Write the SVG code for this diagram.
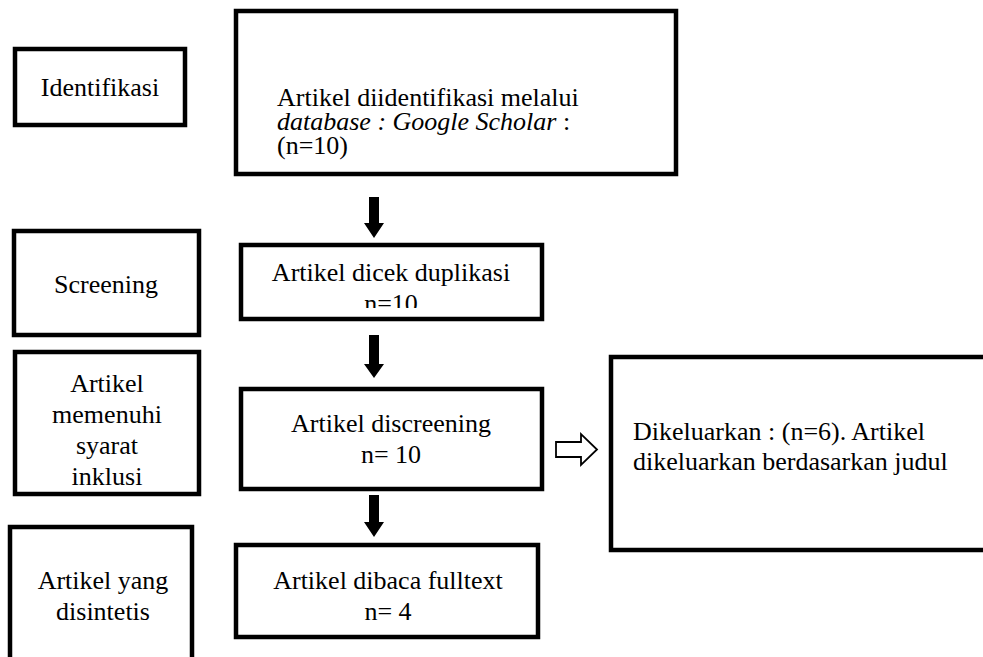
<svg xmlns="http://www.w3.org/2000/svg" width="983" height="657" viewBox="0 0 983 657">
<style>
.box{fill:#fff;stroke:#000;stroke-width:4.5}
.t{font-family:"Liberation Serif","Times New Roman",serif;font-size:26px;fill:#000}
.c{text-anchor:middle}
.it{font-style:italic}
.arr{fill:#000;stroke:none}
.harr{fill:#fff;stroke:#000;stroke-width:1.8}
</style>
<defs>
<clipPath id="clipDicek"><rect x="241" y="247" width="301" height="61"/></clipPath>
</defs>
<rect width="983" height="657" fill="#fff"/>

<g id="identifikasi">
<rect class="box" x="15" y="49" width="170" height="76"/>
<text class="t c" x="100" y="96">Identifikasi</text>
</g>

<g id="box-identifikasi">
<rect class="box" x="236" y="11" width="440" height="163"/>
<text class="t" x="277" y="106">Artikel diidentifikasi melalui</text>
<text class="t" x="277" y="130"><tspan class="it">database : Google Scholar</tspan> :</text>
<text class="t" x="277" y="154">(n=10)</text>
</g>

<g id="screening">
<rect class="box" x="14" y="231" width="185" height="104"/>
<text class="t c" x="106" y="293">Screening</text>
</g>

<g id="box-dicek">
<rect class="box" x="241" y="245" width="301" height="74"/>
<g clip-path="url(#clipDicek)">
<text class="t c" x="391" y="281">Artikel dicek duplikasi</text>
<text class="t c" x="391" y="312">n=10</text>
</g>
</g>

<g id="memenuhi">
<rect class="box" x="15" y="352" width="184" height="142"/>
<text class="t c" x="107" y="392">Artikel</text>
<text class="t c" x="107" y="423">memenuhi</text>
<text class="t c" x="107" y="454">syarat</text>
<text class="t c" x="107" y="485">inklusi</text>
</g>

<g id="box-discreening">
<rect class="box" x="241" y="389" width="301" height="100"/>
<text class="t c" x="391" y="432">Artikel discreening</text>
<text class="t c" x="391" y="463">n= 10</text>
</g>

<g id="disintetis">
<rect class="box" x="10" y="527" width="182" height="160"/>
<text class="t c" x="103" y="589">Artikel yang</text>
<text class="t c" x="103" y="620">disintetis</text>
</g>

<g id="box-fulltext">
<rect class="box" x="236" y="545" width="302" height="92"/>
<text class="t c" x="388" y="589">Artikel dibaca fulltext</text>
<text class="t c" x="388" y="620">n= 4</text>
</g>

<g id="box-dikeluarkan">
<rect class="box" x="611" y="357" width="400" height="193"/>
<text class="t" x="633" y="440">Dikeluarkan : (n=6). Artikel</text>
<text class="t" x="633" y="470">dikeluarkan berdasarkan judul</text>
</g>

<g id="connectors">
<polygon class="arr" points="369,197 379,197 379,223 384,223 374,238 364,223 369,223"/>
<polygon class="arr" points="369,335 379,335 379,364 384,364 374,378 364,364 369,364"/>
<polygon class="arr" points="369,495 379,495 379,522 384,522 374,537 364,522 369,522"/>
<polygon class="harr" points="556,442 581,442 581,434 597,449.5 581,465 581,457 556,457"/>
</g>
</svg>
